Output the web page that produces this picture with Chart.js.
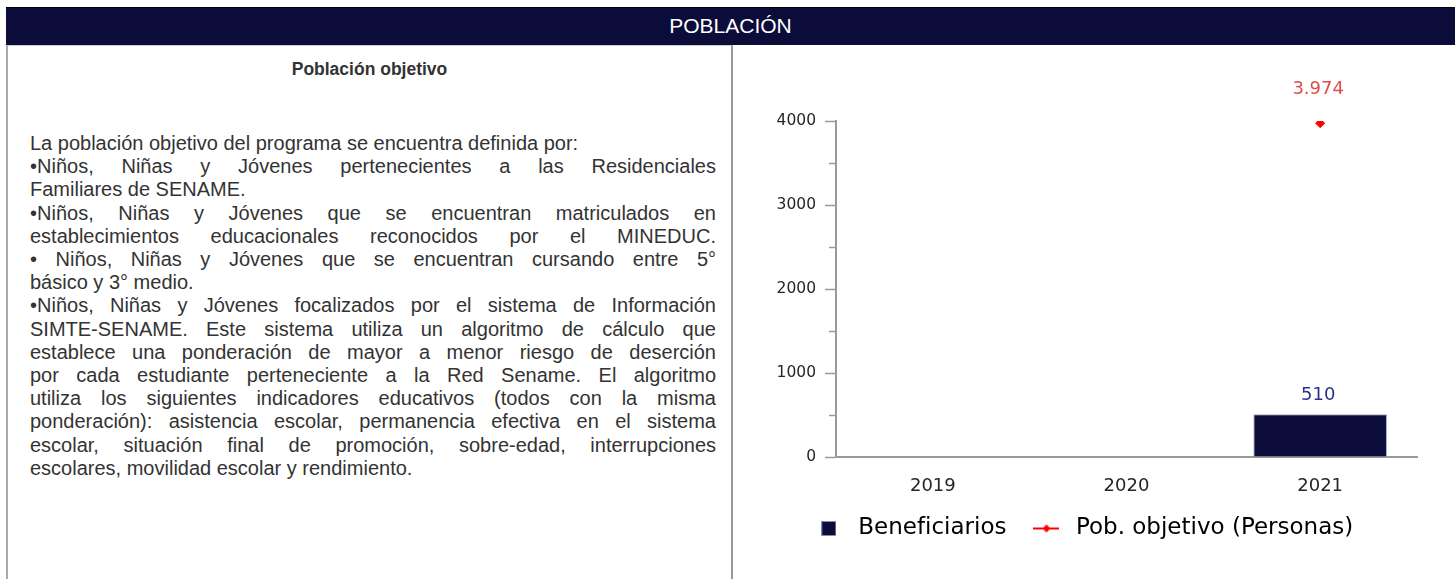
<!DOCTYPE html>
<html lang="es">
<head>
<meta charset="utf-8">
<title>Población</title>
<script src="https://cdn.jsdelivr.net/npm/chart.js@4.4.1/dist/chart.umd.min.js"></script>
<style>
    body { margin: 0; background: #fff; width: 1455px; height: 579px; overflow: hidden; position: relative; }
    #cabecera {
        position: absolute; left: 6px; top: 7px; width: 1449px; height: 38px;
        box-sizing: border-box; border-top: 1px solid #000;
        background: #0b0c3a; color: #fff;
        font: 21px "Liberation Sans", Arial, sans-serif; line-height: 36px; text-align: center;
    }
    #izquierda {
        position: absolute; left: 6px; top: 45px; width: 727px; height: 560px;
        box-sizing: border-box; border-left: 2px solid #aaa; border-right: 2px solid #999; border-top: 1px solid #ccc;
        color: #333; font-family: "Liberation Sans", Arial, sans-serif;
    }
    #titulo { position: absolute; left: 0; right: 0; top: 13px; text-align: center; font-weight: bold; font-size: 17.5px; line-height: 20px; }
    #texto { position: absolute; left: 22px; width: 686px; top: 86px; font-size: 20px; line-height: 23.2px; }
    .j { text-align: justify; text-align-last: justify; }
    #derecha { position: absolute; left: 733px; top: 47px; width: 722px; height: 532px; }
</style>
</head>
<body>
<div id="cabecera">POBLACIÓN</div>
<div id="izquierda">
    <div id="titulo">Población objetivo</div>
    <div id="texto">
        <div>La población objetivo del programa se encuentra definida por:</div>
        <div class="j">•Niños, Niñas y Jóvenes pertenecientes a las Residenciales</div>
        <div>Familiares de SENAME.</div>
        <div class="j">•Niños, Niñas y Jóvenes que se encuentran matriculados en</div>
        <div class="j">establecimientos educacionales reconocidos por el MINEDUC.</div>
        <div class="j">• Niños, Niñas y Jóvenes que se encuentran cursando entre 5°</div>
        <div>básico y 3° medio.</div>
        <div class="j">•Niños, Niñas y Jóvenes focalizados por el sistema de Información</div>
        <div class="j">SIMTE-SENAME. Este sistema utiliza un algoritmo de cálculo que</div>
        <div class="j">establece una ponderación de mayor a menor riesgo de deserción</div>
        <div class="j">por cada estudiante perteneciente a la Red Sename. El algoritmo</div>
        <div class="j">utiliza los siguientes indicadores educativos (todos con la misma</div>
        <div class="j">ponderación): asistencia escolar, permanencia efectiva en el sistema</div>
        <div class="j">escolar, situación final de promoción, sobre-edad, interrupciones</div>
        <div>escolares, movilidad escolar y rendimiento.</div>
    </div>
</div>
<div id="derecha"><canvas id="grafico"></canvas></div>

<script>
const categorias = ['2019', '2020', '2021'];
const beneficiarios = [null, null, 510];
const poblacionObjetivo = [null, null, 3974];
const ticksPrincipales = [0, 1000, 2000, 3000, 4000];
const nombresSeries = ['Beneficiarios', 'Pob. objetivo (Personas)'];

const AZUL = '#0b0c3a';
const ROJO = '#ff0000';
const GRIS_EJE = '#999999';
const TEXTO = '#262626';

Chart.defaults.font.family = '"DejaVu Sans", sans-serif';
Chart.defaults.color = TEXTO;

function formatear(valor) {
    return String(valor).replace(/\B(?=(\d{3})+(?!\d))/g, '.');
}

// marcas de la leyenda
function marcaCuadro() {
    const c = document.createElement('canvas');
    c.width = 15; c.height = 15;
    const g = c.getContext('2d');
    g.fillStyle = '#8c8ca6';
    g.fillRect(0, 0, 15, 15);
    g.fillStyle = AZUL;
    g.fillRect(1, 1, 13, 13);
    return c;
}

function marcaLinea() {
    const c = document.createElement('canvas');
    c.width = 26; c.height = 12;
    const g = c.getContext('2d');
    g.strokeStyle = ROJO;
    g.lineWidth = 2;
    g.beginPath(); g.moveTo(0, 6); g.lineTo(26, 6); g.stroke();
    g.fillStyle = ROJO;
    g.beginPath(); g.moveTo(13, 2); g.lineTo(17, 6); g.lineTo(13, 10); g.lineTo(9, 6); g.closePath(); g.fill();
    return c;
}

const marcas = [marcaCuadro(), marcaLinea()];

// valores sobre cada barra / punto
const etiquetasValores = {
    id: 'etiquetasValores',
    afterDatasetsDraw(chart) {
        const ctx = chart.ctx;
        chart.data.datasets.forEach((ds, i) => {
            const meta = chart.getDatasetMeta(i);
            meta.data.forEach((el, j) => {
                const v = ds.data[j];
                if (v === null || v === undefined) return;
                ctx.save();
                ctx.font = '18px "DejaVu Sans"';
                ctx.fillStyle = ds.colorEtiqueta;
                ctx.textAlign = 'center';
                ctx.textBaseline = 'middle';
                ctx.fillText(formatear(v), el.x - 2, el.y - ds.separacionEtiqueta);
                ctx.restore();
            });
        });
    }
};

// ticks menores (cada 500) más cortos que los principales
const ticksMenores = {
    id: 'ticksMenores',
    afterDraw(chart) {
        const y = chart.scales.y;
        const ctx = chart.ctx;
        ctx.save();
        ctx.strokeStyle = GRIS_EJE;
        ctx.lineWidth = 1.5;
        y.ticks.forEach(t => {
            if (ticksPrincipales.includes(t.value)) return;
            const py = Math.round(y.getPixelForValue(t.value)) + 0.5;
            ctx.beginPath();
            ctx.moveTo(y.right - 7, py);
            ctx.lineTo(y.right, py);
            ctx.stroke();
        });
        ctx.restore();
    }
};

new Chart(document.getElementById('grafico'), {
    data: {
        labels: categorias,
        datasets: [
            {
                type: 'bar',
                label: nombresSeries[0],
                data: beneficiarios,
                backgroundColor: AZUL,
                borderColor: '#a9a9cc',
                borderWidth: 1,
                categoryPercentage: 1,
                barPercentage: 0.69,
                colorEtiqueta: '#2e2e8c',
                separacionEtiqueta: 19,
                order: 2
            },
            {
                type: 'line',
                label: nombresSeries[1],
                data: poblacionObjetivo,
                showLine: false,
                pointStyle: 'rectRot',
                pointRadius: 4.5,
                pointBackgroundColor: ROJO,
                pointBorderColor: ROJO,
                pointBorderWidth: 1,
                colorEtiqueta: '#dc4c4c',
                separacionEtiqueta: 34,
                order: 1
            }
        ]
    },
    options: {
        responsive: true,
        maintainAspectRatio: false,
        animation: false,
        layout: { padding: { top: 74, left: 14, right: 38, bottom: 29 } },
        scales: {
            x: {
                grid: { display: false, drawTicks: false },
                border: { display: true, color: GRIS_EJE, width: 2 },
                ticks: { padding: 19, font: { size: 18 }, color: TEXTO },
                afterFit(scale) { scale.height = 38; }
            },
            y: {
                min: 0,
                max: 4000,
                grid: {
                    drawOnChartArea: false,
                    drawTicks: true,
                    tickLength: 11,
                    tickWidth: 1.5,
                    tickColor: c => ticksPrincipales.includes(c.tick.value) ? GRIS_EJE : 'rgba(0,0,0,0)'
                },
                border: { display: true, color: GRIS_EJE, width: 2 },
                ticks: {
                    stepSize: 500,
                    padding: 9,
                    font: { size: 15.5 },
                    color: TEXTO,
                    callback: v => ticksPrincipales.includes(v) ? v : ''
                },
                afterFit(scale) { scale.width = 89; }
            }
        },
        plugins: {
            tooltip: { enabled: false },
            legend: {
                position: 'bottom',
                labels: {
                    usePointStyle: true,
                    pointStyleWidth: 36,
                    padding: 22,
                    font: { size: 23 },
                    color: TEXTO,
                    generateLabels: chart => chart.data.datasets.map((ds, i) => ({
                        text: ds.label,
                        pointStyle: marcas[i],
                        fillStyle: AZUL,
                        strokeStyle: AZUL,
                        lineWidth: 0,
                        hidden: false,
                        datasetIndex: i
                    }))
                }
            }
        }
    },
    plugins: [etiquetasValores, ticksMenores]
});
</script>
</body>
</html>
